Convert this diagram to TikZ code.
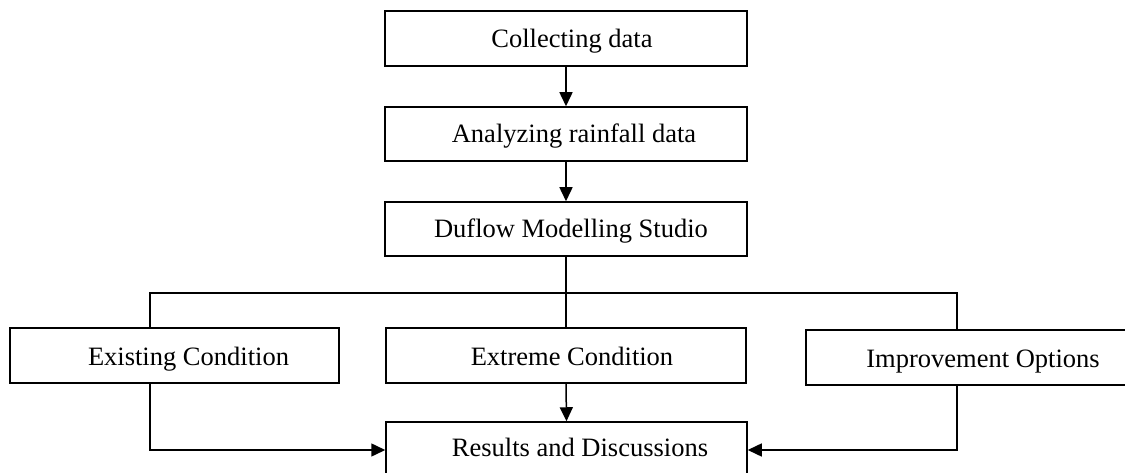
\documentclass[tikz,border=0pt]{standalone}
\usepackage{fontspec}
\setmainfont{Liberation Serif}
\usetikzlibrary{arrows.meta,calc}
\begin{document}
\begin{tikzpicture}[x=1pt,y=-1pt,
  box/.style={draw,line width=1.5pt,rectangle,inner sep=0pt},
  lbl/.style={anchor=base,inner sep=0pt,font=\fontsize{26.5}{30}\selectfont},
  conn/.style={line width=1.5pt},
  arr/.style={line width=1.5pt,-{Triangle[length=14pt,width=13pt]}}]
\useasboundingbox (0,0) rectangle (1125,473);
\clip (0,0) rectangle (1125,473);
% boxes
\node[box,minimum width=362pt,minimum height=55pt] (collect) at (566,38.5) {};
\node[box,minimum width=362pt,minimum height=54pt] (analyze) at (566,134) {};
\node[box,minimum width=362pt,minimum height=54pt] (duflow) at (566,229) {};
\node[box,minimum width=329pt,minimum height=55pt] (existing) at (174.5,355.5) {};
\node[box,minimum width=360pt,minimum height=55pt] (extreme) at (566,355.5) {};
\node[box,minimum width=330pt,minimum height=55pt] (improve) at (971,357.5) {};
\node[box,minimum width=361pt,minimum height=56pt] (results) at (566.5,450) {};
% texts
\node[lbl] (collect-t) at (572,48) {Collecting data};
\node[lbl] (analyze-t) at (574,143) {Analyzing rainfall data};
\node[lbl] (duflow-t) at (571,238) {Duflow Modelling Studio};
\node[lbl] (existing-t) at (188.5,365) {Existing Condition};
\node[lbl] (extreme-t) at (572,365) {Extreme Condition};
\node[lbl] (improve-t) at (983,367) {Improvement Options};
\node[lbl] (results-t) at (580,456) {Results and Discussions};
% connectors
\coordinate (bl) at (150,293);
\coordinate (br) at (957,293);
\draw[arr] (collect.south) -- (analyze.north);
\draw[arr] (analyze.south) -- (duflow.north);
\draw[conn] (duflow.south) -- (extreme.north);
\draw[conn] (bl|-existing.north) -- (bl) -- (br) -- (br|-improve.north);
\draw[arr] (extreme.south) -- (results.north);
\draw[arr] (existing.south -| bl) |- (results.west);
\draw[arr] (improve.south -| br) |- (results.east);
\end{tikzpicture}
\end{document}
